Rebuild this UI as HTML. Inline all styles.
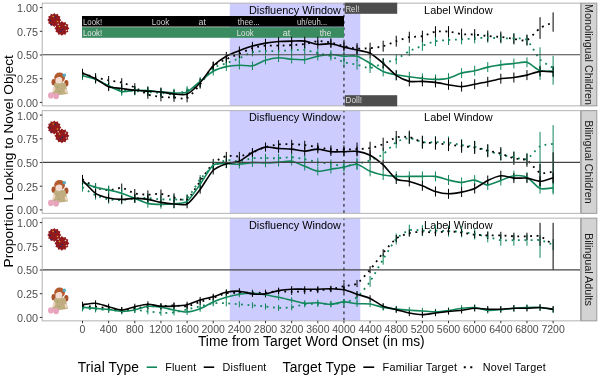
<!DOCTYPE html><html><head><meta charset="utf-8"><style>html,body{margin:0;padding:0;background:#fff;}svg{display:block;will-change:transform;}text{font-family:"Liberation Sans",sans-serif;}</style></head><body>
<svg width="600" height="378" viewBox="0 0 600 378">
<rect x="0" y="0" width="600" height="378" fill="#fff"/>
<rect x="229.8" y="3.15" width="130.49" height="102.7" fill="#ccccff"/>
<g transform="translate(0,0)">
<polygon points="61.3,19.9 59.81,21.38 60.36,23.4 58.33,23.93 57.8,25.96 55.78,25.41 54.3,26.9 52.82,25.41 50.8,25.96 50.27,23.93 48.24,23.4 48.79,21.38 47.3,19.9 48.79,18.42 48.24,16.4 50.27,15.87 50.8,13.84 52.82,14.39 54.3,12.9 55.78,14.39 57.8,13.84 58.33,15.87 60.36,16.4 59.81,18.42" fill="#931a1c"/>
<polygon points="69.3,28.3 67.79,29.88 68.31,32 66.21,32.61 65.6,34.71 63.48,34.19 61.9,35.7 60.32,34.19 58.2,34.71 57.59,32.61 55.49,32 56.01,29.88 54.5,28.3 56.01,26.72 55.49,24.6 57.59,23.99 58.2,21.89 60.32,22.41 61.9,20.9 63.48,22.41 65.6,21.89 66.21,23.99 68.31,24.6 67.79,26.72" fill="#931a1c"/>
<circle cx="53.2" cy="16.5" r="0.8" fill="#d9a21b"/>
<circle cx="50.2" cy="20.5" r="0.8" fill="#1d2a6b"/>
<circle cx="57.5" cy="21.5" r="0.8" fill="#d9a21b"/>
<circle cx="55.5" cy="17" r="0.8" fill="#1d2a6b"/>
<circle cx="59.5" cy="26.5" r="0.8" fill="#d9a21b"/>
<circle cx="62.5" cy="29.5" r="0.8" fill="#1d2a6b"/>
<circle cx="60.5" cy="31.5" r="0.8" fill="#1d2a6b"/>
<circle cx="65.5" cy="25.5" r="0.8" fill="#d8c8c8"/>
<circle cx="58.2" cy="24.2" r="0.8" fill="#d8c8c8"/>
<circle cx="66.5" cy="30.5" r="0.8" fill="#d8c8c8"/>
<circle cx="51" cy="24.5" r="0.8" fill="#1d2a6b"/>
</g>
<g transform="translate(0,0)">
<ellipse cx="53.6" cy="82.2" rx="2.1" ry="3.1" fill="#a9512a"/>
<ellipse cx="66.3" cy="83.2" rx="2.1" ry="3.3" fill="#a9512a"/>
<path d="M54.6,83.0 Q60,81.5 65.4,83.0 L68.0,93.8 Q60,96.0 52.2,94.0 Z" fill="#bfae80"/>
<circle cx="57.5" cy="87" r="0.7" fill="#8fa06a"/><circle cx="62" cy="89" r="0.7" fill="#d79a8a"/><circle cx="59" cy="91.5" r="0.7" fill="#8fa06a"/><circle cx="63.5" cy="86" r="0.6" fill="#d79a8a"/>
<ellipse cx="54" cy="89.5" rx="1.2" ry="2.6" fill="#efd3c3" transform="rotate(20 54 89.5)"/>
<ellipse cx="66" cy="91" rx="1.2" ry="2.4" fill="#efd3c3" transform="rotate(-15 66 91)"/>
<ellipse cx="59.6" cy="77.6" rx="5.4" ry="5.1" fill="#b35a2e"/>
<ellipse cx="58.9" cy="80.0" rx="3.4" ry="3.6" fill="#f2dbcf"/>
<path d="M55.3,79 Q56,74.6 59.6,74.4 Q63.4,74.6 63.6,79 Q61.5,76.6 59.5,77.1 Q57.2,76.6 55.3,79 Z" fill="#b35a2e"/>
<circle cx="64.3" cy="75.2" r="1.7" fill="#3aaec6"/><circle cx="64.3" cy="75.2" r="0.6" fill="#d98aa0"/>
<ellipse cx="50.9" cy="95.4" rx="2.9" ry="3.1" fill="#e9a7bf"/>
<ellipse cx="56.1" cy="96.1" rx="2.9" ry="3.1" fill="#e7a3bb"/>
</g>
<line x1="343.95" x2="343.95" y1="105.65" y2="3.15" stroke="#222" stroke-width="1.15" stroke-dasharray="2.8 3.5"/>
<text x="294.93" y="13.95" font-size="10.9" text-anchor="middle" fill="#000">Disfluency Window</text>
<text x="458.33" y="13.95" font-size="10.9" text-anchor="middle" fill="#000">Label Window</text>
<rect x="229.8" y="110.65" width="130.49" height="102.7" fill="#ccccff"/>
<g transform="translate(0,107.5)">
<polygon points="61.3,19.9 59.81,21.38 60.36,23.4 58.33,23.93 57.8,25.96 55.78,25.41 54.3,26.9 52.82,25.41 50.8,25.96 50.27,23.93 48.24,23.4 48.79,21.38 47.3,19.9 48.79,18.42 48.24,16.4 50.27,15.87 50.8,13.84 52.82,14.39 54.3,12.9 55.78,14.39 57.8,13.84 58.33,15.87 60.36,16.4 59.81,18.42" fill="#931a1c"/>
<polygon points="69.3,28.3 67.79,29.88 68.31,32 66.21,32.61 65.6,34.71 63.48,34.19 61.9,35.7 60.32,34.19 58.2,34.71 57.59,32.61 55.49,32 56.01,29.88 54.5,28.3 56.01,26.72 55.49,24.6 57.59,23.99 58.2,21.89 60.32,22.41 61.9,20.9 63.48,22.41 65.6,21.89 66.21,23.99 68.31,24.6 67.79,26.72" fill="#931a1c"/>
<circle cx="53.2" cy="16.5" r="0.8" fill="#d9a21b"/>
<circle cx="50.2" cy="20.5" r="0.8" fill="#1d2a6b"/>
<circle cx="57.5" cy="21.5" r="0.8" fill="#d9a21b"/>
<circle cx="55.5" cy="17" r="0.8" fill="#1d2a6b"/>
<circle cx="59.5" cy="26.5" r="0.8" fill="#d9a21b"/>
<circle cx="62.5" cy="29.5" r="0.8" fill="#1d2a6b"/>
<circle cx="60.5" cy="31.5" r="0.8" fill="#1d2a6b"/>
<circle cx="65.5" cy="25.5" r="0.8" fill="#d8c8c8"/>
<circle cx="58.2" cy="24.2" r="0.8" fill="#d8c8c8"/>
<circle cx="66.5" cy="30.5" r="0.8" fill="#d8c8c8"/>
<circle cx="51" cy="24.5" r="0.8" fill="#1d2a6b"/>
</g>
<g transform="translate(0,107.5)">
<ellipse cx="53.6" cy="82.2" rx="2.1" ry="3.1" fill="#a9512a"/>
<ellipse cx="66.3" cy="83.2" rx="2.1" ry="3.3" fill="#a9512a"/>
<path d="M54.6,83.0 Q60,81.5 65.4,83.0 L68.0,93.8 Q60,96.0 52.2,94.0 Z" fill="#bfae80"/>
<circle cx="57.5" cy="87" r="0.7" fill="#8fa06a"/><circle cx="62" cy="89" r="0.7" fill="#d79a8a"/><circle cx="59" cy="91.5" r="0.7" fill="#8fa06a"/><circle cx="63.5" cy="86" r="0.6" fill="#d79a8a"/>
<ellipse cx="54" cy="89.5" rx="1.2" ry="2.6" fill="#efd3c3" transform="rotate(20 54 89.5)"/>
<ellipse cx="66" cy="91" rx="1.2" ry="2.4" fill="#efd3c3" transform="rotate(-15 66 91)"/>
<ellipse cx="59.6" cy="77.6" rx="5.4" ry="5.1" fill="#b35a2e"/>
<ellipse cx="58.9" cy="80.0" rx="3.4" ry="3.6" fill="#f2dbcf"/>
<path d="M55.3,79 Q56,74.6 59.6,74.4 Q63.4,74.6 63.6,79 Q61.5,76.6 59.5,77.1 Q57.2,76.6 55.3,79 Z" fill="#b35a2e"/>
<circle cx="64.3" cy="75.2" r="1.7" fill="#3aaec6"/><circle cx="64.3" cy="75.2" r="0.6" fill="#d98aa0"/>
<ellipse cx="50.9" cy="95.4" rx="2.9" ry="3.1" fill="#e9a7bf"/>
<ellipse cx="56.1" cy="96.1" rx="2.9" ry="3.1" fill="#e7a3bb"/>
</g>
<line x1="343.95" x2="343.95" y1="213.15" y2="110.65" stroke="#222" stroke-width="1.15" stroke-dasharray="2.8 3.5"/>
<text x="294.93" y="121.45" font-size="10.9" text-anchor="middle" fill="#000">Disfluency Window</text>
<text x="458.33" y="121.45" font-size="10.9" text-anchor="middle" fill="#000">Label Window</text>
<rect x="229.8" y="218.15" width="130.49" height="102.7" fill="#ccccff"/>
<g transform="translate(0,215)">
<polygon points="61.3,19.9 59.81,21.38 60.36,23.4 58.33,23.93 57.8,25.96 55.78,25.41 54.3,26.9 52.82,25.41 50.8,25.96 50.27,23.93 48.24,23.4 48.79,21.38 47.3,19.9 48.79,18.42 48.24,16.4 50.27,15.87 50.8,13.84 52.82,14.39 54.3,12.9 55.78,14.39 57.8,13.84 58.33,15.87 60.36,16.4 59.81,18.42" fill="#931a1c"/>
<polygon points="69.3,28.3 67.79,29.88 68.31,32 66.21,32.61 65.6,34.71 63.48,34.19 61.9,35.7 60.32,34.19 58.2,34.71 57.59,32.61 55.49,32 56.01,29.88 54.5,28.3 56.01,26.72 55.49,24.6 57.59,23.99 58.2,21.89 60.32,22.41 61.9,20.9 63.48,22.41 65.6,21.89 66.21,23.99 68.31,24.6 67.79,26.72" fill="#931a1c"/>
<circle cx="53.2" cy="16.5" r="0.8" fill="#d9a21b"/>
<circle cx="50.2" cy="20.5" r="0.8" fill="#1d2a6b"/>
<circle cx="57.5" cy="21.5" r="0.8" fill="#d9a21b"/>
<circle cx="55.5" cy="17" r="0.8" fill="#1d2a6b"/>
<circle cx="59.5" cy="26.5" r="0.8" fill="#d9a21b"/>
<circle cx="62.5" cy="29.5" r="0.8" fill="#1d2a6b"/>
<circle cx="60.5" cy="31.5" r="0.8" fill="#1d2a6b"/>
<circle cx="65.5" cy="25.5" r="0.8" fill="#d8c8c8"/>
<circle cx="58.2" cy="24.2" r="0.8" fill="#d8c8c8"/>
<circle cx="66.5" cy="30.5" r="0.8" fill="#d8c8c8"/>
<circle cx="51" cy="24.5" r="0.8" fill="#1d2a6b"/>
</g>
<g transform="translate(0,215)">
<ellipse cx="53.6" cy="82.2" rx="2.1" ry="3.1" fill="#a9512a"/>
<ellipse cx="66.3" cy="83.2" rx="2.1" ry="3.3" fill="#a9512a"/>
<path d="M54.6,83.0 Q60,81.5 65.4,83.0 L68.0,93.8 Q60,96.0 52.2,94.0 Z" fill="#bfae80"/>
<circle cx="57.5" cy="87" r="0.7" fill="#8fa06a"/><circle cx="62" cy="89" r="0.7" fill="#d79a8a"/><circle cx="59" cy="91.5" r="0.7" fill="#8fa06a"/><circle cx="63.5" cy="86" r="0.6" fill="#d79a8a"/>
<ellipse cx="54" cy="89.5" rx="1.2" ry="2.6" fill="#efd3c3" transform="rotate(20 54 89.5)"/>
<ellipse cx="66" cy="91" rx="1.2" ry="2.4" fill="#efd3c3" transform="rotate(-15 66 91)"/>
<ellipse cx="59.6" cy="77.6" rx="5.4" ry="5.1" fill="#b35a2e"/>
<ellipse cx="58.9" cy="80.0" rx="3.4" ry="3.6" fill="#f2dbcf"/>
<path d="M55.3,79 Q56,74.6 59.6,74.4 Q63.4,74.6 63.6,79 Q61.5,76.6 59.5,77.1 Q57.2,76.6 55.3,79 Z" fill="#b35a2e"/>
<circle cx="64.3" cy="75.2" r="1.7" fill="#3aaec6"/><circle cx="64.3" cy="75.2" r="0.6" fill="#d98aa0"/>
<ellipse cx="50.9" cy="95.4" rx="2.9" ry="3.1" fill="#e9a7bf"/>
<ellipse cx="56.1" cy="96.1" rx="2.9" ry="3.1" fill="#e7a3bb"/>
</g>
<line x1="343.95" x2="343.95" y1="320.65" y2="218.15" stroke="#222" stroke-width="1.15" stroke-dasharray="2.8 3.5"/>
<text x="294.93" y="228.95" font-size="10.9" text-anchor="middle" fill="#000">Disfluency Window</text>
<text x="458.33" y="228.95" font-size="10.9" text-anchor="middle" fill="#000">Label Window</text>
<rect x="82" y="16" width="262" height="10.6" fill="#000"/>
<rect x="82" y="27.2" width="262" height="10.6" fill="#3a8b5f"/>
<text x="83" y="24.7" textLength="19.2" font-size="8.5" lengthAdjust="spacingAndGlyphs" fill="#d0d0d0">Look!</text>
<text x="151.8" y="24.7" textLength="17.4" font-size="8.5" lengthAdjust="spacingAndGlyphs" fill="#d0d0d0">Look</text>
<text x="198.5" y="24.7" textLength="7.4" font-size="8.5" lengthAdjust="spacingAndGlyphs" fill="#d0d0d0">at</text>
<text x="237.8" y="24.7" textLength="22" font-size="8.5" lengthAdjust="spacingAndGlyphs" fill="#d0d0d0">thee...</text>
<text x="296.9" y="24.7" textLength="30.4" font-size="8.5" lengthAdjust="spacingAndGlyphs" fill="#d0d0d0">uh/euh...</text>
<text x="83" y="35.7" textLength="19.2" font-size="8.5" lengthAdjust="spacingAndGlyphs" fill="#e4e4e4">Look!</text>
<text x="236.8" y="35.7" textLength="16.8" font-size="8.5" lengthAdjust="spacingAndGlyphs" fill="#e4e4e4">Look</text>
<text x="282.8" y="35.7" textLength="7.6" font-size="8.5" lengthAdjust="spacingAndGlyphs" fill="#e4e4e4">at</text>
<text x="319.8" y="35.7" textLength="11.6" font-size="8.5" lengthAdjust="spacingAndGlyphs" fill="#e4e4e4">the</text>
<path d="M82.5,70.7V79.3M95.57,74.7V83.3M108.64,81.7V90.3M121.72,85.7V94.3M134.79,86.7V95.3M147.86,87.7V96.3M160.94,88.7V97.3M174.01,90.1V98.7M187.08,86.1V94.7M200.15,79V87.6M213.22,63.9V72.5M226.3,58.9V67.5M239.37,53.9V62.5M252.44,47.8V56.4M265.51,46.7V55.3M278.59,46.8V55.4M291.66,45.8V54.4M304.73,45.8V54.4M317.81,48.8V57.4M330.88,51.9V60.5M343.95,57.9V66.5M357.02,59.7V69.7M370.09,63V73M383.17,58.3V68.3M396.24,54.3V64.3M409.31,46.2V56.2M422.38,40.8V50.8M435.46,36.2V46.2M448.53,35V45M461.6,34.4V44.4M474.68,33.4V43.4M487.75,32.7V42.7M500.82,33.4V43.4M513.89,33.4V43.4M526.96,35.1V45.1M540.04,47.3V79.9M553.11,55.8V84.7" stroke="#11875a" stroke-width="1" fill="none"/>
<path d="M82.5,68.9V77.5M95.57,73.2V81.8M108.64,76V84.6M121.72,78.2V86.8M134.79,83.2V91.8M147.86,90.2V98.8M160.94,92.7V101.3M174.01,93.2V101.8M187.08,93.7V102.3M200.15,80V88.6M213.22,61.9V70.5M226.3,54.9V63.5M239.37,49.4V58M252.44,43.8V52.4M265.51,41.4V50M278.59,41.4V50M291.66,40.8V49.4M304.73,39.8V48.4M317.81,36.8V45.4M330.88,38.2V46.8M343.95,41.8V50.4M357.02,43V54M370.09,42.7V53.7M383.17,40.7V51.7M396.24,35.7V46.7M409.31,31.7V42.7M422.38,30.7V41.7M435.46,26.2V37.2M448.53,26.1V37.1M461.6,28.6V39.6M474.68,29.1V40.1M487.75,30.5V41.5M500.82,31.5V42.5M513.89,33.4V44.4M526.96,34.6V45.6M540.04,17.2V38.9M553.11,12.4V31.7" stroke="#000000" stroke-width="1" fill="none"/>
<path d="M82.5,71.5V80.1M95.57,75V83.6M108.64,81.4V90M121.72,87.2V95.8M134.79,86V94.6M147.86,86.3V94.9M160.94,87.7V96.3M174.01,88.7V97.3M187.08,87.7V96.3M200.15,77V85.6M213.22,66.9V75.5M226.3,62.3V70.9M239.37,60.9V69.5M252.44,61.5V70.1M265.51,55.9V64.5M278.59,53.5V62.1M291.66,54.9V63.5M304.73,55.3V63.9M317.81,51.9V60.5M330.88,50.2V58.8M343.95,51.9V60.5M357.02,51.2V61.2M370.09,58.3V68.3M383.17,66.4V76.4M396.24,69.8V79.8M409.31,71.8V81.8M422.38,73.4V83.4M435.46,74.4V84.4M448.53,73.2V83.2M461.6,68.1V78.1M474.68,65.7V75.7M487.75,62.1V72.1M500.82,59.9V69.9M513.89,58.5V68.5M526.96,57.3V67.3M540.04,65.7V75.7M553.11,66V76" stroke="#11875a" stroke-width="1" fill="none"/>
<path d="M82.5,68.9V77.5M95.57,74.4V83M108.64,82.5V91.1M121.72,84.2V92.8M134.79,86V94.6M147.86,86.8V95.4M160.94,87.7V96.3M174.01,89.7V98.3M187.08,89.7V98.3M200.15,78.4V87M213.22,61.5V70.1M226.3,51.9V60.5M239.37,46.4V55M252.44,41.8V50.4M265.51,38.8V47.4M278.59,37.2V45.8M291.66,36.8V45.4M304.73,36.8V45.4M317.81,40.2V48.8M330.88,39.4V48M343.95,42.8V51.4M357.02,45V55M370.09,48.3V58.3M383.17,58.3V68.3M396.24,70.4V80.4M409.31,76.4V86.4M422.38,76.4V86.4M435.46,77.4V87.4M448.53,79.8V89.8M461.6,81.6V91.6M474.68,79.2V89.2M487.75,76.8V86.8M500.82,73.7V83.7M513.89,72.5V82.5M526.96,70.1V80.1M540.04,66.4V76.4M553.11,66.9V76.9" stroke="#000000" stroke-width="1" fill="none"/>
<path d="M82.5,75C84.07,75.48 92.44,77.68 95.57,79C98.71,80.32 105.51,84.68 108.64,86C111.78,87.32 118.58,89.4 121.72,90C124.85,90.6 131.65,90.76 134.79,91C137.93,91.24 144.73,91.76 147.86,92C151,92.24 157.8,92.71 160.94,93C164.07,93.29 170.87,94.71 174.01,94.4C177.14,94.09 183.94,91.73 187.08,90.4C190.22,89.07 197.02,85.96 200.15,83.3C203.29,80.64 210.09,70.61 213.22,68.2C216.36,65.79 223.16,64.4 226.3,63.2C229.43,62 236.23,59.53 239.37,58.2C242.51,56.87 249.31,52.96 252.44,52.1C255.58,51.24 262.38,51.12 265.51,51C268.65,50.88 275.45,51.21 278.59,51.1C281.72,50.99 288.52,50.22 291.66,50.1C294.8,49.98 301.6,49.74 304.73,50.1C307.87,50.46 314.67,52.37 317.81,53.1C320.94,53.83 327.74,55.11 330.88,56.2C334.01,57.29 340.81,61.18 343.95,62.2C347.09,63.22 353.89,64 357.02,64.7C360.16,65.4 366.96,68.17 370.09,68C373.23,67.83 380.03,64.34 383.17,63.3C386.3,62.26 393.1,60.75 396.24,59.3C399.38,57.85 406.18,52.82 409.31,51.2C412.45,49.58 419.25,47 422.38,45.8C425.52,44.6 432.32,41.9 435.46,41.2C438.59,40.5 445.39,40.22 448.53,40C451.67,39.78 458.47,39.59 461.6,39.4C464.74,39.21 471.54,38.6 474.68,38.4C477.81,38.2 484.61,37.7 487.75,37.7C490.88,37.7 497.68,38.32 500.82,38.4C503.96,38.48 510.76,38.2 513.89,38.4C517.03,38.6 523.83,37.58 526.96,40.1C530.1,42.62 536.9,56.08 540.04,59.4C543.17,62.72 551.54,66.79 553.11,67.8" fill="none" stroke="#11875a" stroke-width="1.8" stroke-dasharray="1.8 4.6"/>
<path d="M82.5,73.2C84.07,73.72 92.44,76.65 95.57,77.5C98.71,78.35 105.51,79.7 108.64,80.3C111.78,80.9 118.58,81.64 121.72,82.5C124.85,83.36 131.65,86.06 134.79,87.5C137.93,88.94 144.73,93.36 147.86,94.5C151,95.64 157.8,96.64 160.94,97C164.07,97.36 170.87,97.38 174.01,97.5C177.14,97.62 183.94,99.58 187.08,98C190.22,96.42 197.02,88.12 200.15,84.3C203.29,80.48 210.09,69.21 213.22,66.2C216.36,63.19 223.16,60.7 226.3,59.2C229.43,57.7 236.23,55.03 239.37,53.7C242.51,52.37 249.31,49.06 252.44,48.1C255.58,47.14 262.38,45.99 265.51,45.7C268.65,45.41 275.45,45.77 278.59,45.7C281.72,45.63 288.52,45.29 291.66,45.1C294.8,44.91 301.6,44.58 304.73,44.1C307.87,43.62 314.67,41.29 317.81,41.1C320.94,40.91 327.74,41.9 330.88,42.5C334.01,43.1 340.81,45.38 343.95,46.1C347.09,46.82 353.89,48.25 357.02,48.5C360.16,48.75 366.96,48.48 370.09,48.2C373.23,47.92 380.03,47.04 383.17,46.2C386.3,45.36 393.1,42.28 396.24,41.2C399.38,40.12 406.18,37.8 409.31,37.2C412.45,36.6 419.25,36.86 422.38,36.2C425.52,35.54 432.32,32.25 435.46,31.7C438.59,31.15 445.39,31.31 448.53,31.6C451.67,31.89 458.47,33.74 461.6,34.1C464.74,34.46 471.54,34.37 474.68,34.6C477.81,34.83 484.61,35.71 487.75,36C490.88,36.29 497.68,36.65 500.82,37C503.96,37.35 510.76,38.53 513.89,38.9C517.03,39.27 523.83,41.4 526.96,40.1C530.1,38.8 536.9,30.21 540.04,28.1C543.17,25.99 551.54,23.17 553.11,22.5" fill="none" stroke="#000000" stroke-width="1.8" stroke-dasharray="1.8 4.6"/>
<path d="M82.5,75.8C84.07,76.22 92.44,78.11 95.57,79.3C98.71,80.49 105.51,84.24 108.64,85.7C111.78,87.16 118.58,90.95 121.72,91.5C124.85,92.05 131.65,90.41 134.79,90.3C137.93,90.19 144.73,90.4 147.86,90.6C151,90.8 157.8,91.71 160.94,92C164.07,92.29 170.87,93 174.01,93C177.14,93 183.94,93.4 187.08,92C190.22,90.6 197.02,83.8 200.15,81.3C203.29,78.8 210.09,72.96 213.22,71.2C216.36,69.44 223.16,67.32 226.3,66.6C229.43,65.88 236.23,65.3 239.37,65.2C242.51,65.1 249.31,66.4 252.44,65.8C255.58,65.2 262.38,61.16 265.51,60.2C268.65,59.24 275.45,57.92 278.59,57.8C281.72,57.68 288.52,58.98 291.66,59.2C294.8,59.42 301.6,59.96 304.73,59.6C307.87,59.24 314.67,56.81 317.81,56.2C320.94,55.59 327.74,54.5 330.88,54.5C334.01,54.5 340.81,56 343.95,56.2C347.09,56.4 353.89,55.35 357.02,56.2C360.16,57.05 366.96,61.48 370.09,63.3C373.23,65.12 380.03,70.02 383.17,71.4C386.3,72.78 393.1,74.15 396.24,74.8C399.38,75.45 406.18,76.37 409.31,76.8C412.45,77.23 419.25,78.09 422.38,78.4C425.52,78.71 432.32,79.42 435.46,79.4C438.59,79.38 445.39,78.96 448.53,78.2C451.67,77.44 458.47,74 461.6,73.1C464.74,72.2 471.54,71.42 474.68,70.7C477.81,69.98 484.61,67.8 487.75,67.1C490.88,66.4 497.68,65.33 500.82,64.9C503.96,64.47 510.76,63.81 513.89,63.5C517.03,63.19 523.83,61.44 526.96,62.3C530.1,63.16 536.9,69.66 540.04,70.7C543.17,71.74 551.54,70.96 553.11,71" fill="none" stroke="#11875a" stroke-width="1.6" stroke-linejoin="round"/>
<path d="M82.5,73.2C84.07,73.86 92.44,77.07 95.57,78.7C98.71,80.33 105.51,85.62 108.64,86.8C111.78,87.98 118.58,88.08 121.72,88.5C124.85,88.92 131.65,89.99 134.79,90.3C137.93,90.61 144.73,90.9 147.86,91.1C151,91.3 157.8,91.65 160.94,92C164.07,92.35 170.87,93.76 174.01,94C177.14,94.24 183.94,95.36 187.08,94C190.22,92.64 197.02,86.08 200.15,82.7C203.29,79.32 210.09,68.98 213.22,65.8C216.36,62.62 223.16,58.01 226.3,56.2C229.43,54.39 236.23,51.91 239.37,50.7C242.51,49.49 249.31,47.01 252.44,46.1C255.58,45.19 262.38,43.65 265.51,43.1C268.65,42.55 275.45,41.74 278.59,41.5C281.72,41.26 288.52,41.15 291.66,41.1C294.8,41.05 301.6,40.69 304.73,41.1C307.87,41.51 314.67,44.19 317.81,44.5C320.94,44.81 327.74,43.39 330.88,43.7C334.01,44.01 340.81,46.34 343.95,47.1C347.09,47.86 353.89,49.26 357.02,50C360.16,50.74 366.96,51.7 370.09,53.3C373.23,54.9 380.03,60.65 383.17,63.3C386.3,65.95 393.1,73.23 396.24,75.4C399.38,77.57 406.18,80.68 409.31,81.4C412.45,82.12 419.25,81.28 422.38,81.4C425.52,81.52 432.32,81.99 435.46,82.4C438.59,82.81 445.39,84.3 448.53,84.8C451.67,85.3 458.47,86.67 461.6,86.6C464.74,86.53 471.54,84.78 474.68,84.2C477.81,83.62 484.61,82.46 487.75,81.8C490.88,81.14 497.68,79.22 500.82,78.7C503.96,78.18 510.76,77.93 513.89,77.5C517.03,77.07 523.83,75.83 526.96,75.1C530.1,74.37 536.9,71.78 540.04,71.4C543.17,71.02 551.54,71.84 553.11,71.9" fill="none" stroke="#000000" stroke-width="1.6" stroke-linejoin="round"/>
<path d="M82.5,183V191.6M95.57,191V199.6M108.64,195.1V203.7M121.72,195.7V204.3M134.79,194.1V202.7M147.86,193.7V202.3M160.94,195.1V203.7M174.01,195.1V203.7M187.08,194.1V202.7M200.15,175V183.6M213.22,161.9V170.5M226.3,155.9V164.5M239.37,156.9V165.5M252.44,153.9V162.5M265.51,153.9V162.5M278.59,153.9V162.5M291.66,152.9V161.5M304.73,154.9V163.5M317.81,157.9V166.5M330.88,159.5V168.1M343.95,161.9V170.5M357.02,157.8V169.8M370.09,154.3V166.3M383.17,148.2V160.2M396.24,136.2V148.2M409.31,132.1V144.1M422.38,136.2V148.2M435.46,136.2V148.2M448.53,136.5V148.5M461.6,139.1V151.1M474.68,140.8V152.8M487.75,144.7V156.7M500.82,148.8V160.8M513.89,151.2V163.2M526.96,152.9V164.9M540.04,131.9V188.5M553.11,125.1V194.5" stroke="#11875a" stroke-width="1" fill="none"/>
<path d="M82.5,174.9V183.5M95.57,183V191.6M108.64,186V194.6M121.72,183.6V192.2M134.79,189V197.6M147.86,190.4V199M160.94,189.6V198.2M174.01,193.2V201.8M187.08,195.1V203.7M200.15,177V185.6M213.22,158.9V167.5M226.3,151.9V160.5M239.37,151.9V160.5M252.44,148.2V156.8M265.51,142.7V151.3M278.59,140.2V148.8M291.66,139.8V148.4M304.73,140.8V149.4M317.81,142.8V151.4M330.88,145.4V154M343.95,145.4V154M357.02,142.5V155.5M370.09,141.7V154.7M383.17,137.7V150.7M396.24,131V144M409.31,130.6V143.6M422.38,135.7V148.7M435.46,136.7V149.7M448.53,138.1V151.1M461.6,139.8V152.8M474.68,141V154M487.75,144.2V157.2M500.82,147.1V160.1M513.89,151.9V164.9M526.96,153.8V166.8M540.04,164V186M553.11,152.3V183.7" stroke="#000000" stroke-width="1" fill="none"/>
<path d="M82.5,178V186.6M95.57,183V191.6M108.64,185.6V194.2M121.72,189V197.6M134.79,194.1V202.7M147.86,199.1V207.7M160.94,200.1V208.7M174.01,199.4V208M187.08,197.1V205.7M200.15,180V188.6M213.22,160.9V169.5M226.3,159.5V168.1M239.37,159.9V168.5M252.44,158.3V166.9M265.51,158.7V167.3M278.59,157.9V166.5M291.66,156.9V165.5M304.73,161.9V170.5M317.81,166.9V175.5M330.88,164.9V173.5M343.95,162.9V171.5M357.02,159.3V169.3M370.09,166.3V176.3M383.17,170V180M396.24,171.4V181.4M409.31,171.4V181.4M422.38,171.4V181.4M435.46,171.4V181.4M448.53,175V185M461.6,177.5V187.5M474.68,175.1V185.1M487.75,179.9V189.9M500.82,175.5V185.5M513.89,170.7V180.7M526.96,172.2V182.2M540.04,183.5V193.5M553.11,182.8V192.8" stroke="#11875a" stroke-width="1" fill="none"/>
<path d="M82.5,175.9V184.5M95.57,189V197.6M108.64,193.7V202.3M121.72,195.1V203.7M134.79,194.1V202.7M147.86,195.1V203.7M160.94,198.1V206.7M174.01,199.7V208.3M187.08,199.7V208.3M200.15,185.1V193.7M213.22,165.9V174.5M226.3,159.5V168.1M239.37,156.9V165.5M252.44,148.2V156.8M265.51,142.8V151.4M278.59,144.2V152.8M291.66,144.8V153.4M304.73,146.8V155.4M317.81,144.8V153.4M330.88,147.4V156M343.95,147.4V156M357.02,146.4V156.4M370.09,150.2V160.2M383.17,159.9V169.9M396.24,174V184M409.31,176.4V186.4M422.38,180.8V190.8M435.46,186.5V196.5M448.53,188.8V198.8M461.6,187.1V197.1M474.68,183.5V193.5M487.75,175.5V185.5M500.82,170.7V180.7M513.89,173.1V183.1M526.96,173.1V183.1M540.04,176.3V186.3M553.11,172.7V182.7" stroke="#000000" stroke-width="1" fill="none"/>
<path d="M82.5,187.3C84.07,188.26 92.44,193.85 95.57,195.3C98.71,196.75 105.51,198.84 108.64,199.4C111.78,199.96 118.58,200.12 121.72,200C124.85,199.88 131.65,198.64 134.79,198.4C137.93,198.16 144.73,197.88 147.86,198C151,198.12 157.8,199.23 160.94,199.4C164.07,199.57 170.87,199.52 174.01,199.4C177.14,199.28 183.94,200.81 187.08,198.4C190.22,195.99 197.02,183.16 200.15,179.3C203.29,175.44 210.09,168.49 213.22,166.2C216.36,163.91 223.16,160.8 226.3,160.2C229.43,159.6 236.23,161.44 239.37,161.2C242.51,160.96 249.31,158.56 252.44,158.2C255.58,157.84 262.38,158.2 265.51,158.2C268.65,158.2 275.45,158.32 278.59,158.2C281.72,158.08 288.52,157.08 291.66,157.2C294.8,157.32 301.6,158.6 304.73,159.2C307.87,159.8 314.67,161.65 317.81,162.2C320.94,162.75 327.74,163.32 330.88,163.8C334.01,164.28 340.81,166.2 343.95,166.2C347.09,166.2 353.89,164.51 357.02,163.8C360.16,163.09 366.96,161.45 370.09,160.3C373.23,159.15 380.03,156.37 383.17,154.2C386.3,152.03 393.1,144.13 396.24,142.2C399.38,140.27 406.18,138.1 409.31,138.1C412.45,138.1 419.25,141.71 422.38,142.2C425.52,142.69 432.32,142.16 435.46,142.2C438.59,142.24 445.39,142.15 448.53,142.5C451.67,142.85 458.47,144.58 461.6,145.1C464.74,145.62 471.54,146.13 474.68,146.8C477.81,147.47 484.61,149.74 487.75,150.7C490.88,151.66 497.68,154.02 500.82,154.8C503.96,155.58 510.76,156.71 513.89,157.2C517.03,157.69 523.83,160.21 526.96,158.9C530.1,157.59 536.9,148.1 540.04,146.3C543.17,144.5 551.54,144.19 553.11,143.9" fill="none" stroke="#11875a" stroke-width="1.8" stroke-dasharray="1.8 4.6"/>
<path d="M82.5,179.2C84.07,180.17 92.44,185.97 95.57,187.3C98.71,188.63 105.51,190.23 108.64,190.3C111.78,190.37 118.58,187.54 121.72,187.9C124.85,188.26 131.65,192.48 134.79,193.3C137.93,194.12 144.73,194.63 147.86,194.7C151,194.77 157.8,193.56 160.94,193.9C164.07,194.24 170.87,196.84 174.01,197.5C177.14,198.16 183.94,201.34 187.08,199.4C190.22,197.46 197.02,185.64 200.15,181.3C203.29,176.96 210.09,166.21 213.22,163.2C216.36,160.19 223.16,157.04 226.3,156.2C229.43,155.36 236.23,156.64 239.37,156.2C242.51,155.76 249.31,153.6 252.44,152.5C255.58,151.4 262.38,147.96 265.51,147C268.65,146.04 275.45,144.85 278.59,144.5C281.72,144.15 288.52,144.03 291.66,144.1C294.8,144.17 301.6,144.74 304.73,145.1C307.87,145.46 314.67,146.55 317.81,147.1C320.94,147.65 327.74,149.39 330.88,149.7C334.01,150.01 340.81,149.78 343.95,149.7C347.09,149.62 353.89,149.18 357.02,149C360.16,148.82 366.96,148.78 370.09,148.2C373.23,147.62 380.03,145.48 383.17,144.2C386.3,142.92 393.1,138.35 396.24,137.5C399.38,136.65 406.18,136.54 409.31,137.1C412.45,137.66 419.25,141.47 422.38,142.2C425.52,142.93 432.32,142.91 435.46,143.2C438.59,143.49 445.39,144.23 448.53,144.6C451.67,144.97 458.47,145.95 461.6,146.3C464.74,146.65 471.54,146.97 474.68,147.5C477.81,148.03 484.61,149.97 487.75,150.7C490.88,151.43 497.68,152.68 500.82,153.6C503.96,154.52 510.76,157.6 513.89,158.4C517.03,159.2 523.83,158.57 526.96,160.3C530.1,162.03 536.9,171.44 540.04,172.8C543.17,174.16 551.54,171.74 553.11,171.6" fill="none" stroke="#000000" stroke-width="1.8" stroke-dasharray="1.8 4.6"/>
<path d="M82.5,182.3C84.07,182.9 92.44,186.39 95.57,187.3C98.71,188.21 105.51,189.18 108.64,189.9C111.78,190.62 118.58,192.28 121.72,193.3C124.85,194.32 131.65,197.19 134.79,198.4C137.93,199.61 144.73,202.68 147.86,203.4C151,204.12 157.8,204.36 160.94,204.4C164.07,204.44 170.87,204.06 174.01,203.7C177.14,203.34 183.94,203.73 187.08,201.4C190.22,199.07 197.02,188.64 200.15,184.3C203.29,179.96 210.09,167.66 213.22,165.2C216.36,162.74 223.16,163.92 226.3,163.8C229.43,163.68 236.23,164.34 239.37,164.2C242.51,164.06 249.31,162.74 252.44,162.6C255.58,162.46 262.38,163.05 265.51,163C268.65,162.95 275.45,162.42 278.59,162.2C281.72,161.98 288.52,160.72 291.66,161.2C294.8,161.68 301.6,165 304.73,166.2C307.87,167.4 314.67,170.84 317.81,171.2C320.94,171.56 327.74,169.68 330.88,169.2C334.01,168.72 340.81,167.79 343.95,167.2C347.09,166.61 353.89,163.81 357.02,164.3C360.16,164.79 366.96,170.02 370.09,171.3C373.23,172.58 380.03,174.39 383.17,175C386.3,175.61 393.1,176.23 396.24,176.4C399.38,176.57 406.18,176.4 409.31,176.4C412.45,176.4 419.25,176.4 422.38,176.4C425.52,176.4 432.32,175.97 435.46,176.4C438.59,176.83 445.39,179.27 448.53,180C451.67,180.73 458.47,182.49 461.6,182.5C464.74,182.51 471.54,179.81 474.68,180.1C477.81,180.39 484.61,184.85 487.75,184.9C490.88,184.95 497.68,181.6 500.82,180.5C503.96,179.4 510.76,176.1 513.89,175.7C517.03,175.3 523.83,175.66 526.96,177.2C530.1,178.74 536.9,187.23 540.04,188.5C543.17,189.77 551.54,187.88 553.11,187.8" fill="none" stroke="#11875a" stroke-width="1.6" stroke-linejoin="round"/>
<path d="M82.5,180.2C84.07,181.77 92.44,191.16 95.57,193.3C98.71,195.44 105.51,197.27 108.64,198C111.78,198.73 118.58,199.35 121.72,199.4C124.85,199.45 131.65,198.4 134.79,198.4C137.93,198.4 144.73,198.92 147.86,199.4C151,199.88 157.8,201.85 160.94,202.4C164.07,202.95 170.87,203.81 174.01,204C177.14,204.19 183.94,205.75 187.08,204C190.22,202.25 197.02,193.46 200.15,189.4C203.29,185.34 210.09,173.27 213.22,170.2C216.36,167.13 223.16,164.88 226.3,163.8C229.43,162.72 236.23,162.56 239.37,161.2C242.51,159.84 249.31,154.19 252.44,152.5C255.58,150.81 262.38,147.58 265.51,147.1C268.65,146.62 275.45,148.26 278.59,148.5C281.72,148.74 288.52,148.79 291.66,149.1C294.8,149.41 301.6,151.1 304.73,151.1C307.87,151.1 314.67,149.03 317.81,149.1C320.94,149.17 327.74,151.39 330.88,151.7C334.01,152.01 340.81,151.74 343.95,151.7C347.09,151.66 353.89,150.98 357.02,151.4C360.16,151.82 366.96,153.58 370.09,155.2C373.23,156.82 380.03,162.04 383.17,164.9C386.3,167.76 393.1,177.02 396.24,179C399.38,180.98 406.18,180.58 409.31,181.4C412.45,182.22 419.25,184.59 422.38,185.8C425.52,187.01 432.32,190.54 435.46,191.5C438.59,192.46 445.39,193.73 448.53,193.8C451.67,193.87 458.47,192.74 461.6,192.1C464.74,191.46 471.54,189.89 474.68,188.5C477.81,187.11 484.61,182.04 487.75,180.5C490.88,178.96 497.68,175.99 500.82,175.7C503.96,175.41 510.76,177.81 513.89,178.1C517.03,178.39 523.83,177.72 526.96,178.1C530.1,178.48 536.9,181.35 540.04,181.3C543.17,181.25 551.54,178.13 553.11,177.7" fill="none" stroke="#000000" stroke-width="1.6" stroke-linejoin="round"/>
<path d="M82.5,305.4V311.4M95.57,306.4V312.4M108.64,307V313M121.72,307.8V313.8M134.79,307V313M147.86,308.4V314.4M160.94,309.8V315.8M174.01,309.4V315.4M187.08,306.4V312.4M200.15,303.3V309.3M213.22,300.3V306.3M226.3,300.3V306.3M239.37,301.3V307.3M252.44,302.3V308.3M265.51,303.5V309.5M278.59,304.9V310.9M291.66,304.3V310.3M304.73,301.3V307.3M317.81,300.9V306.9M330.88,300.9V306.9M343.95,299.7V305.7M357.02,291.7V302.7M370.09,275.9V286.9M383.17,253.7V264.7M396.24,233.5V244.5M409.31,224.7V235.7M422.38,225.1V236.1M435.46,225.1V236.1M448.53,225.7V236.7M461.6,226.3V237.3M474.68,228.5V239.5M487.75,231.3V242.3M500.82,234.7V245.7M513.89,234.7V245.7M526.96,234.7V245.7M540.04,235.4V257.8M553.11,239.2V250.2" stroke="#11875a" stroke-width="1" fill="none"/>
<path d="M82.5,303V309M95.57,303.7V309.7M108.64,305.4V311.4M121.72,307.4V313.4M134.79,305.4V311.4M147.86,303.3V309.3M160.94,303.3V309.3M174.01,302.3V308.3M187.08,303.3V309.3M200.15,298.9V304.9M213.22,294.9V300.9M226.3,290.3V296.3M239.37,289.7V295.7M252.44,289.7V295.7M265.51,289.7V295.7M278.59,288.2V294.2M291.66,288.9V294.9M304.73,288.2V294.2M317.81,287.2V293.2M330.88,286.2V292.2M343.95,283.2V289.2M357.02,279.9V287.1M370.09,266.1V273.3M383.17,249.2V256.4M396.24,235V242.2M409.31,229.5V236.7M422.38,228.2V235.4M435.46,229V236.2M448.53,227.6V234.8M461.6,229V236.2M474.68,231V238.2M487.75,231.8V239M500.82,231.8V239M513.89,232.7V239.9M526.96,232.7V239.9M540.04,222.8V245.8M553.11,222.8V269.9" stroke="#000000" stroke-width="1" fill="none"/>
<path d="M82.5,304.3V310.3M95.57,305.4V311.4M108.64,306.4V312.4M121.72,308.4V314.4M134.79,307V313M147.86,303.3V309.3M160.94,304.3V310.3M174.01,307V313M187.08,309V315M200.15,305.8V311.8M213.22,298.9V304.9M226.3,294.3V300.3M239.37,291.3V297.3M252.44,290.3V296.3M265.51,291.7V297.7M278.59,294.3V300.3M291.66,297.3V303.3M304.73,300.3V306.3M317.81,299.7V305.7M330.88,301.3V307.3M343.95,298.9V304.9M357.02,300.5V306.9M370.09,300.8V307.2M383.17,304.2V310.6M396.24,305.9V312.3M409.31,307V313.4M422.38,307.8V314.2M435.46,308.7V315.1M448.53,307.4V313.8M461.6,305.1V311.5M474.68,304.3V310.7M487.75,307.1V313.5M500.82,306.5V312.9M513.89,305.1V311.5M526.96,304.3V310.7M540.04,304.3V310.7M553.11,306.5V312.9" stroke="#11875a" stroke-width="1" fill="none"/>
<path d="M82.5,301.7V307.7M95.57,300.3V306.3M108.64,303.7V309.7M121.72,307V313M134.79,303.7V309.7M147.86,301.3V307.3M160.94,303.3V309.3M174.01,303.1V309.1M187.08,301.7V307.7M200.15,296.9V302.9M213.22,293.7V299.7M226.3,289.3V295.3M239.37,288.2V294.2M252.44,290.9V296.9M265.51,290.9V296.9M278.59,287.6V293.6M291.66,286.2V292.2M304.73,286.2V292.2M317.81,286.2V292.2M330.88,285.8V291.8M343.95,286.8V292.8M357.02,291V297.4M370.09,295.2V301.6M383.17,303.1V309.5M396.24,306.4V312.8M409.31,309.8V316.2M422.38,311.5V317.9M435.46,309.8V316.2M448.53,308.3V314.7M461.6,307.1V313.5M474.68,305.1V311.5M487.75,306V312.4M500.82,306V312.4M513.89,305.1V311.5M526.96,305.1V311.5M540.04,304.3V310.7M553.11,306V312.4" stroke="#000000" stroke-width="1" fill="none"/>
<path d="M82.5,308.4C84.07,308.52 92.44,309.21 95.57,309.4C98.71,309.59 105.51,309.83 108.64,310C111.78,310.17 118.58,310.8 121.72,310.8C124.85,310.8 131.65,309.93 134.79,310C137.93,310.07 144.73,311.06 147.86,311.4C151,311.74 157.8,312.68 160.94,312.8C164.07,312.92 170.87,312.81 174.01,312.4C177.14,311.99 183.94,310.13 187.08,309.4C190.22,308.67 197.02,307.03 200.15,306.3C203.29,305.57 210.09,303.66 213.22,303.3C216.36,302.94 223.16,303.18 226.3,303.3C229.43,303.42 236.23,304.06 239.37,304.3C242.51,304.54 249.31,305.04 252.44,305.3C255.58,305.56 262.38,306.19 265.51,306.5C268.65,306.81 275.45,307.8 278.59,307.9C281.72,308 288.52,307.73 291.66,307.3C294.8,306.87 301.6,304.71 304.73,304.3C307.87,303.89 314.67,303.95 317.81,303.9C320.94,303.85 327.74,304.04 330.88,303.9C334.01,303.76 340.81,303.5 343.95,302.7C347.09,301.9 353.89,299.76 357.02,297.2C360.16,294.64 366.96,285.96 370.09,281.4C373.23,276.84 380.03,264.29 383.17,259.2C386.3,254.11 393.1,242.48 396.24,239C399.38,235.52 406.18,231.21 409.31,230.2C412.45,229.19 419.25,230.55 422.38,230.6C425.52,230.65 432.32,230.53 435.46,230.6C438.59,230.67 445.39,231.06 448.53,231.2C451.67,231.34 458.47,231.46 461.6,231.8C464.74,232.14 471.54,233.4 474.68,234C477.81,234.6 484.61,236.06 487.75,236.8C490.88,237.54 497.68,239.79 500.82,240.2C503.96,240.61 510.76,240.2 513.89,240.2C517.03,240.2 523.83,240.2 526.96,240.2C530.1,240.2 536.9,239.66 540.04,240.2C543.17,240.74 551.54,244.16 553.11,244.7" fill="none" stroke="#11875a" stroke-width="1.8" stroke-dasharray="1.8 4.6"/>
<path d="M82.5,306C84.07,306.08 92.44,306.41 95.57,306.7C98.71,306.99 105.51,307.96 108.64,308.4C111.78,308.84 118.58,310.4 121.72,310.4C124.85,310.4 131.65,308.89 134.79,308.4C137.93,307.91 144.73,306.55 147.86,306.3C151,306.05 157.8,306.42 160.94,306.3C164.07,306.18 170.87,305.3 174.01,305.3C177.14,305.3 183.94,306.71 187.08,306.3C190.22,305.89 197.02,302.91 200.15,301.9C203.29,300.89 210.09,298.93 213.22,297.9C216.36,296.87 223.16,293.92 226.3,293.3C229.43,292.68 236.23,292.77 239.37,292.7C242.51,292.63 249.31,292.7 252.44,292.7C255.58,292.7 262.38,292.88 265.51,292.7C268.65,292.52 275.45,291.3 278.59,291.2C281.72,291.1 288.52,291.9 291.66,291.9C294.8,291.9 301.6,291.4 304.73,291.2C307.87,291 314.67,290.44 317.81,290.2C320.94,289.96 327.74,289.68 330.88,289.2C334.01,288.72 340.81,286.88 343.95,286.2C347.09,285.52 353.89,285.48 357.02,283.5C360.16,281.52 366.96,273.38 370.09,269.7C373.23,266.02 380.03,256.53 383.17,252.8C386.3,249.07 393.1,240.96 396.24,238.6C399.38,236.24 406.18,233.92 409.31,233.1C412.45,232.28 419.25,231.86 422.38,231.8C425.52,231.74 432.32,232.67 435.46,232.6C438.59,232.53 445.39,231.2 448.53,231.2C451.67,231.2 458.47,232.19 461.6,232.6C464.74,233.01 471.54,234.26 474.68,234.6C477.81,234.94 484.61,235.3 487.75,235.4C490.88,235.5 497.68,235.29 500.82,235.4C503.96,235.51 510.76,236.19 513.89,236.3C517.03,236.41 523.83,236.3 526.96,236.3C530.1,236.3 536.9,235.29 540.04,236.3C543.17,237.31 551.54,243.69 553.11,244.7" fill="none" stroke="#000000" stroke-width="1.8" stroke-dasharray="1.8 4.6"/>
<path d="M82.5,307.3C84.07,307.43 92.44,308.15 95.57,308.4C98.71,308.65 105.51,309.04 108.64,309.4C111.78,309.76 118.58,311.33 121.72,311.4C124.85,311.47 131.65,310.61 134.79,310C137.93,309.39 144.73,306.62 147.86,306.3C151,305.98 157.8,306.86 160.94,307.3C164.07,307.74 170.87,309.44 174.01,310C177.14,310.56 183.94,312.14 187.08,312C190.22,311.86 197.02,310.01 200.15,308.8C203.29,307.59 210.09,303.28 213.22,301.9C216.36,300.52 223.16,298.21 226.3,297.3C229.43,296.39 236.23,294.78 239.37,294.3C242.51,293.82 249.31,293.25 252.44,293.3C255.58,293.35 262.38,294.22 265.51,294.7C268.65,295.18 275.45,296.63 278.59,297.3C281.72,297.97 288.52,299.58 291.66,300.3C294.8,301.02 301.6,303.01 304.73,303.3C307.87,303.59 314.67,302.58 317.81,302.7C320.94,302.82 327.74,304.4 330.88,304.3C334.01,304.2 340.81,301.97 343.95,301.9C347.09,301.83 353.89,303.45 357.02,303.7C360.16,303.95 366.96,303.56 370.09,304C373.23,304.44 380.03,306.79 383.17,307.4C386.3,308.01 393.1,308.76 396.24,309.1C399.38,309.44 406.18,309.97 409.31,310.2C412.45,310.43 419.25,310.8 422.38,311C425.52,311.2 432.32,311.95 435.46,311.9C438.59,311.85 445.39,311.03 448.53,310.6C451.67,310.17 458.47,308.67 461.6,308.3C464.74,307.93 471.54,307.26 474.68,307.5C477.81,307.74 484.61,310.04 487.75,310.3C490.88,310.56 497.68,309.94 500.82,309.7C503.96,309.46 510.76,308.56 513.89,308.3C517.03,308.04 523.83,307.6 526.96,307.5C530.1,307.4 536.9,307.24 540.04,307.5C543.17,307.76 551.54,309.44 553.11,309.7" fill="none" stroke="#11875a" stroke-width="1.6" stroke-linejoin="round"/>
<path d="M82.5,304.7C84.07,304.53 92.44,303.06 95.57,303.3C98.71,303.54 105.51,305.9 108.64,306.7C111.78,307.5 118.58,310 121.72,310C124.85,310 131.65,307.38 134.79,306.7C137.93,306.02 144.73,304.35 147.86,304.3C151,304.25 157.8,306.08 160.94,306.3C164.07,306.52 170.87,306.29 174.01,306.1C177.14,305.91 183.94,305.44 187.08,304.7C190.22,303.96 197.02,300.86 200.15,299.9C203.29,298.94 210.09,297.61 213.22,296.7C216.36,295.79 223.16,292.96 226.3,292.3C229.43,291.64 236.23,291.01 239.37,291.2C242.51,291.39 249.31,293.58 252.44,293.9C255.58,294.22 262.38,294.3 265.51,293.9C268.65,293.5 275.45,291.16 278.59,290.6C281.72,290.04 288.52,289.37 291.66,289.2C294.8,289.03 301.6,289.2 304.73,289.2C307.87,289.2 314.67,289.25 317.81,289.2C320.94,289.15 327.74,288.73 330.88,288.8C334.01,288.87 340.81,289.15 343.95,289.8C347.09,290.45 353.89,293.17 357.02,294.2C360.16,295.23 366.96,296.95 370.09,298.4C373.23,299.85 380.03,304.96 383.17,306.3C386.3,307.64 393.1,308.8 396.24,309.6C399.38,310.4 406.18,312.39 409.31,313C412.45,313.61 419.25,314.7 422.38,314.7C425.52,314.7 432.32,313.38 435.46,313C438.59,312.62 445.39,311.82 448.53,311.5C451.67,311.18 458.47,310.68 461.6,310.3C464.74,309.92 471.54,308.43 474.68,308.3C477.81,308.17 484.61,309.09 487.75,309.2C490.88,309.31 497.68,309.31 500.82,309.2C503.96,309.09 510.76,308.41 513.89,308.3C517.03,308.19 523.83,308.4 526.96,308.3C530.1,308.2 536.9,307.39 540.04,307.5C543.17,307.61 551.54,309 553.11,309.2" fill="none" stroke="#000000" stroke-width="1.6" stroke-linejoin="round"/>
<line x1="42.2" x2="580.5" y1="54.75" y2="54.75" stroke="#454545" stroke-width="1.2"/>
<line x1="42.2" x2="580.5" y1="162.4" y2="162.4" stroke="#454545" stroke-width="1.2"/>
<line x1="42.2" x2="580.5" y1="269.9" y2="269.9" stroke="#454545" stroke-width="1.2"/>
<rect x="42.2" y="3.15" width="538.3" height="102.7" fill="none" stroke="#b3b3b3" stroke-width="1"/>
<rect x="581.2" y="3.15" width="15.6" height="102.7" fill="#d3d3d3" stroke="#999999" stroke-width="1"/>
<text x="0" y="0" font-size="10.75" fill="#1a1a1a" text-anchor="middle" transform="translate(584.8,54.5) rotate(90)">Monolingual Children</text>
<line x1="39.8" x2="42.2" y1="7.6" y2="7.6" stroke="#333" stroke-width="1"/>
<text x="38.0" y="12" font-size="10.8" fill="#4d4d4d" text-anchor="end">1.00</text>
<line x1="39.8" x2="42.2" y1="31.3" y2="31.3" stroke="#333" stroke-width="1"/>
<text x="38.0" y="35.7" font-size="10.8" fill="#4d4d4d" text-anchor="end">0.75</text>
<line x1="39.8" x2="42.2" y1="55" y2="55" stroke="#333" stroke-width="1"/>
<text x="38.0" y="59.4" font-size="10.8" fill="#4d4d4d" text-anchor="end">0.50</text>
<line x1="39.8" x2="42.2" y1="78.7" y2="78.7" stroke="#333" stroke-width="1"/>
<text x="38.0" y="83.1" font-size="10.8" fill="#4d4d4d" text-anchor="end">0.25</text>
<line x1="39.8" x2="42.2" y1="102.4" y2="102.4" stroke="#333" stroke-width="1"/>
<text x="38.0" y="106.8" font-size="10.8" fill="#4d4d4d" text-anchor="end">0.00</text>
<rect x="42.2" y="110.65" width="538.3" height="102.7" fill="none" stroke="#b3b3b3" stroke-width="1"/>
<rect x="581.2" y="110.65" width="15.6" height="102.7" fill="#d3d3d3" stroke="#999999" stroke-width="1"/>
<text x="0" y="0" font-size="10.75" fill="#1a1a1a" text-anchor="middle" transform="translate(584.8,162) rotate(90)">Bilingual Children</text>
<line x1="39.8" x2="42.2" y1="115.1" y2="115.1" stroke="#333" stroke-width="1"/>
<text x="38.0" y="119.5" font-size="10.8" fill="#4d4d4d" text-anchor="end">1.00</text>
<line x1="39.8" x2="42.2" y1="138.8" y2="138.8" stroke="#333" stroke-width="1"/>
<text x="38.0" y="143.2" font-size="10.8" fill="#4d4d4d" text-anchor="end">0.75</text>
<line x1="39.8" x2="42.2" y1="162.5" y2="162.5" stroke="#333" stroke-width="1"/>
<text x="38.0" y="166.9" font-size="10.8" fill="#4d4d4d" text-anchor="end">0.50</text>
<line x1="39.8" x2="42.2" y1="186.2" y2="186.2" stroke="#333" stroke-width="1"/>
<text x="38.0" y="190.6" font-size="10.8" fill="#4d4d4d" text-anchor="end">0.25</text>
<line x1="39.8" x2="42.2" y1="209.9" y2="209.9" stroke="#333" stroke-width="1"/>
<text x="38.0" y="214.3" font-size="10.8" fill="#4d4d4d" text-anchor="end">0.00</text>
<rect x="42.2" y="218.15" width="538.3" height="102.7" fill="none" stroke="#b3b3b3" stroke-width="1"/>
<rect x="581.2" y="218.15" width="15.6" height="102.7" fill="#d3d3d3" stroke="#999999" stroke-width="1"/>
<text x="0" y="0" font-size="10.75" fill="#1a1a1a" text-anchor="middle" transform="translate(584.8,269.5) rotate(90)">Bilingual Adults</text>
<line x1="39.8" x2="42.2" y1="222.6" y2="222.6" stroke="#333" stroke-width="1"/>
<text x="38.0" y="227" font-size="10.8" fill="#4d4d4d" text-anchor="end">1.00</text>
<line x1="39.8" x2="42.2" y1="246.3" y2="246.3" stroke="#333" stroke-width="1"/>
<text x="38.0" y="250.7" font-size="10.8" fill="#4d4d4d" text-anchor="end">0.75</text>
<line x1="39.8" x2="42.2" y1="270" y2="270" stroke="#333" stroke-width="1"/>
<text x="38.0" y="274.4" font-size="10.8" fill="#4d4d4d" text-anchor="end">0.50</text>
<line x1="39.8" x2="42.2" y1="293.7" y2="293.7" stroke="#333" stroke-width="1"/>
<text x="38.0" y="298.1" font-size="10.8" fill="#4d4d4d" text-anchor="end">0.25</text>
<line x1="39.8" x2="42.2" y1="317.4" y2="317.4" stroke="#333" stroke-width="1"/>
<text x="38.0" y="321.8" font-size="10.8" fill="#4d4d4d" text-anchor="end">0.00</text>
<rect x="344.7" y="2.7" width="52.5" height="11.1" fill="#4d4d4d"/>
<text x="345.5" y="11.7" textLength="13.8" font-size="8.5" lengthAdjust="spacingAndGlyphs" fill="#dddddd">Rel!</text>
<rect x="344.9" y="95.2" width="52.3" height="11.1" fill="#4d4d4d"/>
<text x="345.6" y="103.4" textLength="16.4" font-size="8.5" lengthAdjust="spacingAndGlyphs" fill="#dddddd">Doll!</text>
<line x1="82.5" x2="82.5" y1="320.85" y2="323.25" stroke="#333" stroke-width="1"/>
<text x="82.5" y="333.2" font-size="10.5" fill="#4d4d4d" text-anchor="middle">0</text>
<line x1="108.64" x2="108.64" y1="320.85" y2="323.25" stroke="#333" stroke-width="1"/>
<text x="108.64" y="333.2" font-size="10.5" fill="#4d4d4d" text-anchor="middle">400</text>
<line x1="134.79" x2="134.79" y1="320.85" y2="323.25" stroke="#333" stroke-width="1"/>
<text x="134.79" y="333.2" font-size="10.5" fill="#4d4d4d" text-anchor="middle">800</text>
<line x1="160.94" x2="160.94" y1="320.85" y2="323.25" stroke="#333" stroke-width="1"/>
<text x="160.94" y="333.2" font-size="10.5" fill="#4d4d4d" text-anchor="middle">1200</text>
<line x1="187.08" x2="187.08" y1="320.85" y2="323.25" stroke="#333" stroke-width="1"/>
<text x="187.08" y="333.2" font-size="10.5" fill="#4d4d4d" text-anchor="middle">1600</text>
<line x1="213.22" x2="213.22" y1="320.85" y2="323.25" stroke="#333" stroke-width="1"/>
<text x="213.22" y="333.2" font-size="10.5" fill="#4d4d4d" text-anchor="middle">2000</text>
<line x1="239.37" x2="239.37" y1="320.85" y2="323.25" stroke="#333" stroke-width="1"/>
<text x="239.37" y="333.2" font-size="10.5" fill="#4d4d4d" text-anchor="middle">2400</text>
<line x1="265.51" x2="265.51" y1="320.85" y2="323.25" stroke="#333" stroke-width="1"/>
<text x="265.51" y="333.2" font-size="10.5" fill="#4d4d4d" text-anchor="middle">2800</text>
<line x1="291.66" x2="291.66" y1="320.85" y2="323.25" stroke="#333" stroke-width="1"/>
<text x="291.66" y="333.2" font-size="10.5" fill="#4d4d4d" text-anchor="middle">3200</text>
<line x1="317.81" x2="317.81" y1="320.85" y2="323.25" stroke="#333" stroke-width="1"/>
<text x="317.81" y="333.2" font-size="10.5" fill="#4d4d4d" text-anchor="middle">3600</text>
<line x1="343.95" x2="343.95" y1="320.85" y2="323.25" stroke="#333" stroke-width="1"/>
<text x="343.95" y="333.2" font-size="10.5" fill="#4d4d4d" text-anchor="middle">4000</text>
<line x1="370.1" x2="370.1" y1="320.85" y2="323.25" stroke="#333" stroke-width="1"/>
<text x="370.1" y="333.2" font-size="10.5" fill="#4d4d4d" text-anchor="middle">4400</text>
<line x1="396.24" x2="396.24" y1="320.85" y2="323.25" stroke="#333" stroke-width="1"/>
<text x="396.24" y="333.2" font-size="10.5" fill="#4d4d4d" text-anchor="middle">4800</text>
<line x1="422.38" x2="422.38" y1="320.85" y2="323.25" stroke="#333" stroke-width="1"/>
<text x="422.38" y="333.2" font-size="10.5" fill="#4d4d4d" text-anchor="middle">5200</text>
<line x1="448.53" x2="448.53" y1="320.85" y2="323.25" stroke="#333" stroke-width="1"/>
<text x="448.53" y="333.2" font-size="10.5" fill="#4d4d4d" text-anchor="middle">5600</text>
<line x1="474.68" x2="474.68" y1="320.85" y2="323.25" stroke="#333" stroke-width="1"/>
<text x="474.68" y="333.2" font-size="10.5" fill="#4d4d4d" text-anchor="middle">6000</text>
<line x1="500.82" x2="500.82" y1="320.85" y2="323.25" stroke="#333" stroke-width="1"/>
<text x="500.82" y="333.2" font-size="10.5" fill="#4d4d4d" text-anchor="middle">6400</text>
<line x1="526.96" x2="526.96" y1="320.85" y2="323.25" stroke="#333" stroke-width="1"/>
<text x="526.96" y="333.2" font-size="10.5" fill="#4d4d4d" text-anchor="middle">6800</text>
<line x1="553.11" x2="553.11" y1="320.85" y2="323.25" stroke="#333" stroke-width="1"/>
<text x="553.11" y="333.2" font-size="10.5" fill="#4d4d4d" text-anchor="middle">7200</text>
<text x="311.3" y="346.3" font-size="13.8" fill="#000" text-anchor="middle">Time from Target Word Onset (in ms)</text>
<text x="0" y="0" font-size="13.7" fill="#000" text-anchor="middle" transform="translate(12.8,161.3) rotate(-90)">Proportion Looking to Novel Object</text>
<text x="77.8" y="372.3" font-size="13.8" letter-spacing="0.15" fill="#000">Trial Type</text>
<line x1="146.7" x2="157" y1="367.2" y2="367.2" stroke="#11875a" stroke-width="1.6"/>
<text x="165.2" y="371.0" font-size="10.8" letter-spacing="0.22" fill="#000">Fluent</text>
<line x1="203.7" x2="214.2" y1="367.2" y2="367.2" stroke="#000" stroke-width="1.6"/>
<text x="222.6" y="371.0" font-size="10.8" letter-spacing="0.22" fill="#000">Disfluent</text>
<text x="282.6" y="372.3" font-size="13.8" letter-spacing="0.15" fill="#000">Target Type</text>
<line x1="363.3" x2="374.2" y1="367.2" y2="367.2" stroke="#000" stroke-width="1.6"/>
<text x="382.6" y="371.0" font-size="10.8" letter-spacing="0.22" fill="#000">Familiar Target</text>
<line x1="463.8" x2="475" y1="367.3" y2="367.3" stroke="#000" stroke-width="2" stroke-dasharray="2 4.5"/>
<text x="482.8" y="371.0" font-size="10.8" letter-spacing="0.22" fill="#000">Novel Target</text>
</svg></body></html>
